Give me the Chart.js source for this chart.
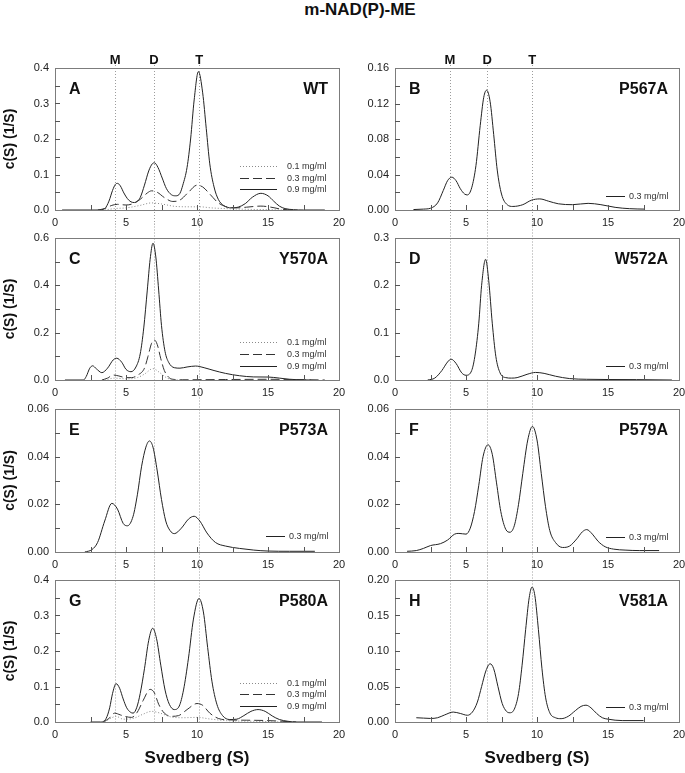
<!DOCTYPE html>
<html><head><meta charset="utf-8">
<script src="https://cdn.jsdelivr.net/npm/chart.js@4"></script>
<style>
html,body{margin:0;padding:0;background:#fff;overflow:hidden;width:685px;height:773px;}
#wrap{position:relative;width:685px;height:773px;overflow:hidden;}
canvas{position:absolute;}
#title{position:absolute;left:0;width:720px;top:0px;line-height:17px;text-align:center;font:bold 17px "Liberation Sans",Arial,sans-serif;color:#111;}
</style></head><body><div id="wrap"><div id="title">m-NAD(P)-ME</div></div>
<script>
// ---------- data ----------
const xTicks = [0, 5, 10, 15, 20];
const refLabels = ['M', 'D', 'T'];
const refLeft = [4.23, 6.97, 10.15];
const refRight = [3.87, 6.5, 9.67];
const concLabels = ['0.1 mg/ml', '0.3 mg/ml', '0.9 mg/ml'];
const singleLabel = '0.3 mg/ml';

// A  WT
const xA09 = [0.5,3.0,3.5,3.8,4.05,4.25,4.4,4.6,4.85,5.1,5.35,5.6,5.8,6.0,6.3,6.6,6.85,7.0,7.25,7.55,7.85,8.2,8.5,8.8,9.0,9.3,9.55,9.8,10.1,10.4,10.65,10.9,11.2,11.5,11.9,12.4,12.9,13.4,13.9,14.5,15.0,15.4,15.8,16.2,16.8,17.5,19.0];
const yA09 = [0,0,0.004,0.025,0.055,0.072,0.075,0.068,0.048,0.032,0.023,0.021,0.025,0.035,0.07,0.11,0.13,0.133,0.12,0.09,0.06,0.043,0.04,0.047,0.07,0.12,0.2,0.31,0.39,0.33,0.23,0.13,0.065,0.03,0.012,0.006,0.008,0.018,0.036,0.047,0.04,0.025,0.011,0.004,0.001,0,0];
const xA03 = [3.0,3.5,4.0,4.4,5.0,5.5,6.0,6.5,6.8,7.2,7.7,8.3,8.8,9.4,10.0,10.4,10.9,11.5,12.0,12.8,13.5,14.5,15.2,16.0,17.0];
const yA03 = [0,0.004,0.013,0.016,0.014,0.018,0.03,0.048,0.054,0.05,0.035,0.024,0.028,0.05,0.07,0.065,0.045,0.02,0.01,0.006,0.008,0.011,0.008,0.002,0];
const xA01 = [3.5,4.2,5.0,6.0,6.8,7.5,8.5,9.5,10.2,11.0,12.0,13.5,15.0,16.0];
const yA01 = [0,0.004,0.006,0.013,0.02,0.017,0.01,0.009,0.009,0.006,0.004,0.002,0.001,0];

// B  P567A
const xB = [1.3,2.0,2.5,3.0,3.4,3.7,4.0,4.3,4.6,4.9,5.1,5.4,5.7,6.0,6.25,6.45,6.7,6.95,7.2,7.5,7.9,8.3,9.0,9.6,10.2,10.8,11.5,12.5,13.6,14.5,15.5,16.5,17.6];
const yB = [0.0005,0.001,0.002,0.008,0.022,0.033,0.037,0.033,0.024,0.018,0.017,0.025,0.05,0.095,0.127,0.135,0.122,0.085,0.045,0.018,0.006,0.004,0.006,0.011,0.0125,0.01,0.007,0.006,0.0075,0.006,0.003,0.0015,0.001];

// C  Y570A
const xC09 = [0.7,2.0,2.2,2.45,2.65,2.9,3.3,3.7,4.1,4.35,4.7,5.0,5.35,5.7,6.0,6.25,6.5,6.7,6.9,7.1,7.3,7.5,7.75,8.0,8.4,8.8,9.3,9.9,10.5,11.2,12.0,13.0,14.0,15.0,15.8,16.5,17.2,18.0];
const yC09 = [0,0,0.015,0.05,0.06,0.048,0.031,0.05,0.085,0.092,0.075,0.045,0.035,0.055,0.11,0.22,0.38,0.51,0.578,0.52,0.38,0.23,0.12,0.075,0.052,0.05,0.055,0.059,0.052,0.04,0.028,0.018,0.013,0.0125,0.008,0.003,0.001,0];
const xC03 = [3.3,3.7,4.1,4.5,5.0,5.4,5.8,6.3,6.55,6.8,7.0,7.2,7.45,7.7,8.0,8.3,9.0,12.0,15.0,17.0,19.0];
const yC03 = [0,0.008,0.021,0.017,0.01,0.01,0.02,0.05,0.1,0.155,0.169,0.15,0.09,0.04,0.012,0.003,0.001,0.002,0.003,0.002,0];
const xC01 = [3.5,4.2,5.0,5.8,6.3,6.9,7.4,7.9,8.4,9.0];
const yC01 = [0,0.008,0.005,0.01,0.025,0.048,0.03,0.008,0.001,0];

// D  W572A
const xD = [2.3,2.8,3.3,3.7,3.95,4.3,4.7,5.0,5.4,5.65,5.9,6.1,6.38,6.6,6.85,7.1,7.4,7.8,8.2,8.6,9.3,9.9,10.5,11.3,12.3,13.5,15.0,17.0,19.5];
const yD = [0,0.004,0.02,0.038,0.044,0.035,0.015,0.01,0.02,0.055,0.12,0.2,0.255,0.21,0.12,0.05,0.015,0.005,0.004,0.005,0.012,0.016,0.014,0.008,0.003,0.0015,0.001,0.0008,0];

// E  P573A
const xE = [2.1,2.6,3.0,3.5,4.0,4.4,4.8,5.1,5.5,5.8,6.1,6.4,6.65,6.9,7.2,7.5,7.8,8.1,8.4,8.9,9.4,9.8,10.2,10.7,11.3,12.0,13.0,14.0,15.0,16.5,18.3];
const yE = [0,0.001,0.004,0.013,0.0204,0.018,0.012,0.011,0.015,0.024,0.036,0.044,0.0466,0.044,0.034,0.022,0.013,0.009,0.0077,0.01,0.0138,0.015,0.013,0.008,0.004,0.0025,0.0015,0.0008,0.0004,0.0003,0.0003];

// F  P579A
const xF = [0.85,1.5,2.0,2.5,3.2,3.7,4.2,4.5,5.0,5.3,5.6,5.9,6.2,6.55,6.85,7.15,7.45,7.8,8.1,8.4,8.7,9.0,9.35,9.68,10.0,10.3,10.6,10.9,11.3,11.8,12.3,12.8,13.2,13.5,13.9,14.3,14.8,15.4,16.2,17.2,18.6];
const yF = [0.0003,0.0006,0.0015,0.0027,0.0035,0.005,0.0075,0.0078,0.0075,0.01,0.017,0.028,0.04,0.045,0.041,0.029,0.017,0.0095,0.0083,0.011,0.02,0.033,0.047,0.0527,0.047,0.033,0.019,0.009,0.004,0.0019,0.0025,0.0055,0.0085,0.0094,0.0075,0.0045,0.0022,0.0012,0.0008,0.0006,0.0006];

// G  P580A
const xG09 = [2.5,3.2,3.6,3.85,4.05,4.3,4.55,4.8,5.05,5.3,5.5,5.75,6.0,6.3,6.6,6.88,7.15,7.45,7.75,8.05,8.4,8.75,9.05,9.4,9.75,10.14,10.45,10.75,11.05,11.4,11.8,12.3,12.8,13.3,13.8,14.3,14.8,15.3,15.8,16.4,17.0,18.8];
const yG09 = [0,0,0.01,0.04,0.08,0.108,0.095,0.065,0.04,0.028,0.025,0.04,0.08,0.15,0.23,0.264,0.235,0.16,0.09,0.05,0.035,0.045,0.09,0.18,0.29,0.348,0.31,0.21,0.115,0.05,0.018,0.007,0.008,0.018,0.03,0.035,0.03,0.017,0.007,0.002,0,0];
const xG03 = [3.4,3.8,4.2,4.6,5.0,5.4,5.8,6.2,6.7,7.0,7.3,7.7,8.2,8.7,9.3,10.0,10.4,10.9,11.5,12.2,13.5,15.0,16.0,17.0];
const yG03 = [0,0.01,0.025,0.02,0.015,0.013,0.028,0.06,0.092,0.082,0.05,0.025,0.016,0.018,0.035,0.052,0.047,0.025,0.01,0.006,0.005,0.004,0.002,0];
const xG01 = [3.5,4.0,4.3,4.8,5.5,6.2,6.8,7.4,8.2,9.0,10.0,11.0,12.0,14.0,16.0];
const yG01 = [0,0.012,0.016,0.008,0.01,0.022,0.03,0.025,0.014,0.012,0.013,0.008,0.004,0.002,0];

// H  V581A
const xH = [1.5,2.0,2.5,3.0,3.5,4.1,4.6,5.1,5.45,5.8,6.1,6.4,6.7,6.95,7.25,7.55,7.85,8.1,8.4,8.7,8.95,9.2,9.45,9.65,9.85,10.1,10.35,10.6,10.9,11.3,11.7,12.2,12.7,13.1,13.45,13.8,14.2,14.6,15.0,16.0,17.5];
const yH = [0.006,0.0055,0.005,0.006,0.01,0.014,0.012,0.0095,0.014,0.028,0.05,0.072,0.082,0.075,0.05,0.026,0.015,0.013,0.018,0.04,0.08,0.13,0.175,0.19,0.178,0.13,0.075,0.035,0.013,0.006,0.0047,0.008,0.016,0.022,0.0237,0.02,0.012,0.006,0.004,0.002,0.002];

// ---------- layout ----------
const FONT = '"Liberation Sans", Arial, sans-serif';
Chart.defaults.font.family = FONT;
const rowTop = [68, 238, 409, 580];
const rowBot = [210, 380, 552, 722];
const colCanvasLeft = [0, 340];
const colCanvasWidth = [352, 355];
const colPadRight = [13, 16];
const AXW = 55;

const STY = {
  dot:   {color: '#8a8a8a', dash: [1, 2]},
  dash:  {color: '#333', dash: [9, 4]},
  solid: {color: '#222', dash: []}
};

const tri = (x01,y01,x03,y03,x09,y09) => [
  {label: concLabels[0], x: x01, y: y01, st: 'dot'},
  {label: concLabels[1], x: x03, y: y03, st: 'dash'},
  {label: concLabels[2], x: x09, y: y09, st: 'solid'}
];
const one = (x, y) => [{label: singleLabel, x, y, st: 'solid'}];

const panels = [
  {L:'A', name:'WT',    row:0, col:0, yMax:0.4,  yStep:0.1,  dec:1, series: tri(xA01,yA01,xA03,yA03,xA09,yA09), leg:[44,32,21]},
  {L:'B', name:'P567A', row:0, col:1, yMax:0.16, yStep:0.04, dec:2, series: one(xB,yB), leg:[14]},
  {L:'C', name:'Y570A', row:1, col:0, yMax:0.6,  yStep:0.2,  dec:1, series: tri(xC01,yC01,xC03,yC03,xC09,yC09), leg:[38,26,14]},
  {L:'D', name:'W572A', row:1, col:1, yMax:0.3,  yStep:0.1,  dec:1, series: one(xD,yD), leg:[14]},
  {L:'E', name:'P573A', row:2, col:0, yMax:0.06, yStep:0.02, dec:2, series: one(xE,yE), leg:[16]},
  {L:'F', name:'P579A', row:2, col:1, yMax:0.06, yStep:0.02, dec:2, series: one(xF,yF), leg:[15]},
  {L:'G', name:'P580A', row:3, col:0, yMax:0.4,  yStep:0.1,  dec:1, series: tri(xG01,yG01,xG03,yG03,xG09,yG09), leg:[39,28,16]},
  {L:'H', name:'V581A', row:3, col:1, yMax:0.20, yStep:0.05, dec:2, series: one(xH,yH), leg:[15]}
];

const decor = {
  id: 'decor',
  beforeDatasetsDraw(chart, args, o) {
    const {ctx, chartArea: a, scales: {x}} = chart;
    ctx.save();
    ctx.strokeStyle = '#9c9c9c'; ctx.lineWidth = 1; ctx.setLineDash([1, 2]);
    const y0 = o.row === 0 ? a.top - 3 : a.top - 14.5;
    const y1 = o.row === 3 ? a.bottom : a.bottom + 14.5;
    o.refs.forEach(v => {
      const px = Math.round(x.getPixelForValue(v)) + 0.5;
      ctx.beginPath(); ctx.moveTo(px, y0); ctx.lineTo(px, y1); ctx.stroke();
    });
    ctx.restore();
  },
  afterDraw(chart, args, o) {
    const {ctx, chartArea: a, scales: {x, y}} = chart;
    ctx.save();
    ctx.strokeStyle = '#7c7c7c'; ctx.lineWidth = 1; ctx.setLineDash([]);
    ctx.strokeRect(a.left + 0.5, a.top + 0.5, a.right - a.left, a.bottom - a.top);
    ctx.strokeStyle = '#555';
    const ny = Math.round(o.yMax / (o.yStep / 2));
    for (let k = 1; k < ny; k++) {
      const py = Math.round(y.getPixelForValue(k * o.yStep / 2)) + 0.5;
      ctx.beginPath(); ctx.moveTo(a.left, py); ctx.lineTo(a.left + 5, py); ctx.stroke();
    }
    for (let k = 1; k < 8; k++) {
      const px = Math.round(x.getPixelForValue(k * 2.5)) + 0.5;
      ctx.beginPath(); ctx.moveTo(px, a.bottom); ctx.lineTo(px, a.bottom - 5); ctx.stroke();
    }
    ctx.fillStyle = '#111';
    ctx.font = 'bold 16px ' + FONT;
    ctx.textBaseline = 'alphabetic';
    ctx.textAlign = 'left';
    ctx.fillText(o.letter, a.left + 14, a.top + 26);
    ctx.textAlign = 'right';
    ctx.fillText(o.name, a.right - 11, a.top + 26);
    if (o.row === 0) {
      ctx.font = 'bold 13px ' + FONT;
      ctx.textAlign = 'center'; ctx.textBaseline = 'middle';
      o.refs.forEach((v, i) => ctx.fillText(refLabels[i], x.getPixelForValue(v), a.top - 7.5));
    }
    const multi = chart.data.datasets.length > 1;
    const lx0 = a.left + (multi ? 185 : 211), lx1 = a.left + (multi ? 222 : 230), tx = a.left + (multi ? 232 : 234);
    chart.data.datasets.forEach((ds, i) => {
      const yy = Math.round(a.bottom - o.leg[i]) + 0.5;
      ctx.strokeStyle = ds.borderColor; ctx.setLineDash(ds.borderDash); ctx.lineWidth = 1;
      ctx.beginPath(); ctx.moveTo(lx0, yy); ctx.lineTo(lx1, yy); ctx.stroke();
      ctx.setLineDash([]);
      ctx.fillStyle = '#333'; ctx.font = '9px ' + FONT;
      ctx.textAlign = 'left'; ctx.textBaseline = 'middle';
      ctx.fillText(ds.label, tx, yy);
    });
    ctx.restore();
  }
};

const wrap = document.getElementById('wrap');
panels.forEach(p => {
  const top = rowTop[p.row] - 30;
  const bottom = p.row === 3 ? 773 : rowBot[p.row] + 30;
  const xH = bottom - rowBot[p.row];
  const cv = document.createElement('canvas');
  cv.width = colCanvasWidth[p.col]; cv.height = bottom - top;
  cv.style.left = colCanvasLeft[p.col] + 'px'; cv.style.top = top + 'px';
  cv.style.width = cv.width + 'px'; cv.style.height = cv.height + 'px';
  wrap.appendChild(cv);
  new Chart(cv, {
    type: 'line',
    data: {
      datasets: p.series.map(s => ({
        label: s.label,
        data: s.x.map((xx, i) => ({x: xx, y: s.y[i]})),
        borderColor: STY[s.st].color,
        borderDash: STY[s.st].dash,
        borderWidth: 1,
        pointRadius: 0,
        fill: false,
        cubicInterpolationMode: 'monotone'
      }))
    },
    options: {
      responsive: false, animation: false, devicePixelRatio: 1,
      layout: {padding: {left: 0, right: colPadRight[p.col], top: 30, bottom: 0}},
      plugins: {
        legend: {display: false}, tooltip: {enabled: false},
        decor: {row: p.row, refs: p.col === 0 ? refLeft : refRight, letter: p.L, name: p.name, yMax: p.yMax, yStep: p.yStep, leg: p.leg}
      },
      scales: {
        x: {
          type: 'linear', min: 0, max: 20,
          afterBuildTicks: s => { s.ticks = xTicks.map(v => ({value: v})); },
          ticks: {padding: 6, color: '#222', font: {size: 11}, maxRotation: 0, autoSkip: false},
          grid: {display: false, drawTicks: false}, border: {display: false},
          afterFit: s => { s.height = xH; },
          title: {display: p.row === 3, text: 'Svedberg (S)', color: '#111', font: {size: 17, weight: 'bold'}, padding: {top: 0, bottom: 4}}
        },
        y: {
          min: 0, max: p.yMax,
          ticks: {stepSize: p.yStep, padding: 6, color: '#222', font: {size: 11}, callback: v => Number(v).toFixed(p.dec)},
          grid: {display: false, drawTicks: false}, border: {display: false},
          afterFit: s => { s.width = AXW; },
          title: {display: p.col === 0, text: 'c(S) (1/S)', color: '#111', font: {size: 14, weight: 'bold'}, padding: {top: 2, bottom: 0}}
        }
      }
    },
    plugins: [decor]
  });
});
</script>
</body></html>
